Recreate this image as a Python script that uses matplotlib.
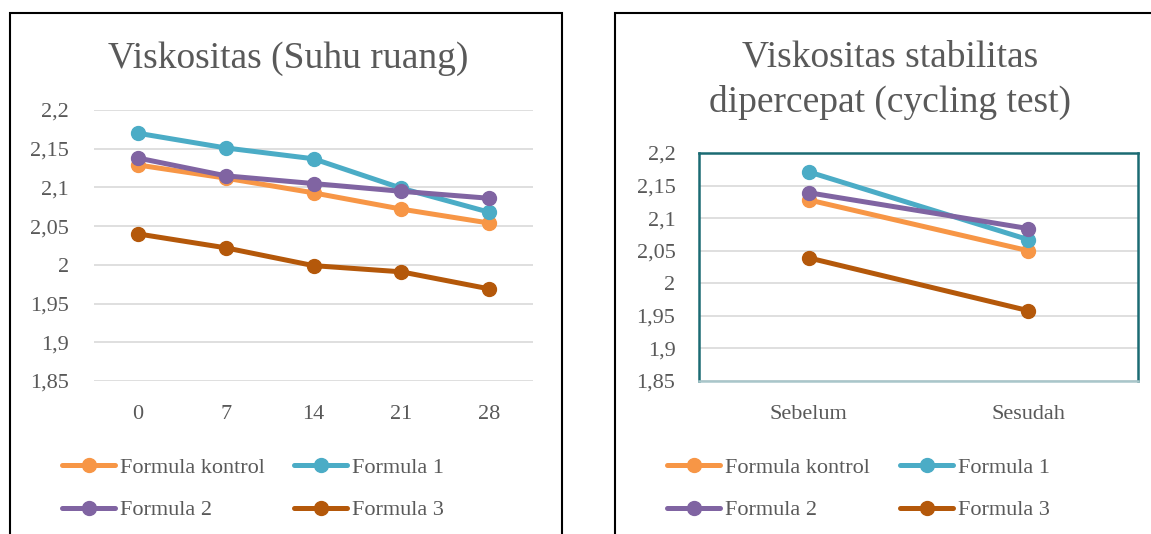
import matplotlib
matplotlib.use('Agg')
import matplotlib.pyplot as plt
from matplotlib.patches import Rectangle
from matplotlib.lines import Line2D

# data
days = ['0', '7', '14', '21', '28']
kontrol_ruang = [2.129, 2.112, 2.093, 2.072, 2.054]
f1_ruang = [2.170, 2.151, 2.137, 2.099, 2.068]
f2_ruang = [2.138, 2.115, 2.105, 2.095, 2.086]
f3_ruang = [2.040, 2.022, 1.999, 1.991, 1.969]

stages = ['Sebelum', 'Sesudah']
kontrol_cyc = [2.128, 2.050]
f1_cyc = [2.171, 2.067]
f2_cyc = [2.139, 2.084]
f3_cyc = [2.039, 1.958]

names = ['Formula kontrol', 'Formula 1', 'Formula 2', 'Formula 3']
colors = ['#F79646', '#4BACC6', '#8064A2', '#B4580A']
yticks = [1.85, 1.9, 1.95, 2.0, 2.05, 2.1, 2.15, 2.2]
ytick_labels = ['1,85', '1,9', '1,95', '2', '2,05', '2,1', '2,15', '2,2']

W, H = 1151, 534
TXT = '#595959'
plt.rcParams['font.family'] = 'Liberation Serif'

fig = plt.figure(figsize=(W / 100, H / 100), dpi=100)


def px(x0, y0, x1, y1):
    # pixel box (top-left origin) -> figure fraction rect
    return [x0 / W, 1 - y1 / H, (x1 - x0) / W, (y1 - y0) / H]


# panel borders
for x0, x1 in [(10, 562), (615, 1160)]:
    fig.add_artist(Rectangle((x0 / W, -0.05), (x1 - x0) / W, 1.05 - 13 / H,
                             transform=fig.transFigure, fill=False,
                             edgecolor='black', linewidth=1.5))


def draw(ax, cats, series, title, title_y, title_x, ypad, framed):
    x = range(len(cats))
    for vals, c in zip(series, colors):
        ax.plot(x, vals, color=c, lw=3.6, marker='o', ms=10,
                solid_capstyle='round', zorder=3)
    ax.set_xlim(-0.5, len(cats) - 0.5)
    ax.set_ylim(1.85, 2.2)
    ax.set_yticks(yticks)
    ax.set_yticklabels(ytick_labels)
    ax.set_xticks(list(x))
    ax.set_xticklabels(cats)
    ax.tick_params(length=0, labelsize=16, labelcolor=TXT)
    ax.tick_params(axis='y', pad=ypad)
    ax.tick_params(axis='x', pad=17)
    ax.grid(axis='y', color='#d9d9d9', lw=1.2)
    ax.set_axisbelow(True)
    for s in ax.spines.values():
        s.set_visible(framed)
    if framed:
        for k in ['left', 'right', 'top']:
            ax.spines[k].set_color('#1B6B73')
            ax.spines[k].set_linewidth(1.8)
        ax.spines['bottom'].set_color('#A9C6CA')
        ax.spines['bottom'].set_linewidth(1.8)
    fig.text(title_x / W, 1 - title_y / H, title, ha='center', va='center',
             fontsize=27, color=TXT, linespacing=1.38)


def legend(xcol1, xcol2, rowy):
    hs = [Line2D([], [], color=c, lw=3.6, marker='o', ms=10,
                 solid_capstyle='round') for c in colors]
    for xc, idx in [(xcol1, [0, 2]), (xcol2, [1, 3])]:
        lg = fig.legend([hs[i] for i in idx], [names[i] for i in idx],
                        loc='upper left',
                        bbox_to_anchor=(xc / W, 1 - rowy / H),
                        frameon=False, fontsize=16, handlelength=2.4,
                        handletextpad=0.2, labelspacing=1.0,
                        borderaxespad=0, borderpad=0)
        for t in lg.get_texts():
            t.set_color(TXT)


ax1 = fig.add_axes(px(94, 110, 533, 381))
draw(ax1, days, [kontrol_ruang, f1_ruang, f2_ruang, f3_ruang],
     'Viskositas (Suhu ruang)', 59, 288, 18, False)

ax2 = fig.add_axes(px(699, 153, 1138, 381))
draw(ax2, stages, [kontrol_cyc, f1_cyc, f2_cyc, f3_cyc],
     'Viskositas stabilitas\ndipercepat (cycling test)', 80, 890, 17, True)

legend(62, 294, 457)
legend(667, 900, 457)

fig.savefig('out.png', dpi=100)
